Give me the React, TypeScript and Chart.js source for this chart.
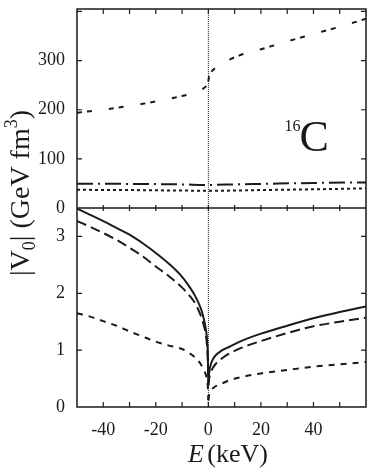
import React, { useEffect, useRef } from 'react';
import { Chart, registerables } from 'chart.js';

Chart.register(...registerables);

// Energy grids (keV)
const E_NEG = [-50, -45, -40, -35, -30, -25, -20, -15, -10, -7, -5, -3, -2, -1, -0.5, -0.2, 0];
const E_POS = [0, 0.3, 1, 2, 3, 5, 8, 12, 20, 30, 40, 50, 60];
const E_FLAT = [-50, -30, -10, 0, 10, 20, 40, 60];

// Lower panel |V0| (GeV fm^3)
const solidNeg = [3.49, 3.38, 3.27, 3.15, 3.03, 2.88, 2.71, 2.52, 2.29, 2.10, 1.95, 1.75, 1.60, 1.38, 1.18, 0.90, 0.42];
const solidPos = [0.42, 0.60, 0.76, 0.86, 0.92, 0.99, 1.06, 1.15, 1.29, 1.43, 1.56, 1.67, 1.77];
const longDashNeg = [3.27, 3.17, 3.06, 2.94, 2.80, 2.65, 2.47, 2.30, 2.10, 1.95, 1.82, 1.62, 1.48, 1.28, 1.08, 0.82, 0.38];
const longDashPos = [0.38, 0.50, 0.62, 0.71, 0.77, 0.85, 0.94, 1.03, 1.16, 1.30, 1.42, 1.50, 1.57];
const shortDashNeg = [1.65, 1.59, 1.51, 1.43, 1.33, 1.24, 1.15, 1.08, 1.02, 0.94, 0.87, 0.76, 0.68, 0.57, 0.47, 0.35, 0.12];
const shortDashPos = [0.12, 0.22, 0.29, 0.34, 0.37, 0.41, 0.47, 0.52, 0.59, 0.65, 0.71, 0.75, 0.79];

// Upper panel |V0| (GeV fm^3)
const topDashNeg = [194, 197, 200, 204, 208, 212, 217, 222, 228, 232, 235, 240, 243, 247, 250, 253, 258];
const topDashPos = [258, 268, 276, 282, 287, 294, 302, 311, 323, 339, 354, 369, 385];
const dashDot = [49.5, 49, 48, 47, 48, 49, 51, 52];
const dotted = [37, 36.5, 35.5, 35, 35.5, 36.5, 38, 40];

const TOP_MAX = 405;
const BOT_MAX = 3.5;
const X_MIN = -50;
const X_MAX = 60;

const pts = (xs: number[], ys: number[]) => xs.map((x, i) => ({ x, y: ys[i] }));
const SERIF = '"Liberation Serif", "Times New Roman", Times, serif';
const INK = '#1a1a1a';

const decorPlugin = {
  id: 'decor',
  afterDatasetsDraw(chart: any) {
    const { ctx, chartArea: a, scales } = chart;
    const x = scales.x;
    const yt = scales.yTop;
    const yb = scales.yBot;
    ctx.save();
    ctx.strokeStyle = INK;
    ctx.lineWidth = 1.5;
    ctx.strokeRect(a.left, a.top, a.right - a.left, a.bottom - a.top);
    ctx.beginPath();
    ctx.moveTo(a.left, yt.bottom);
    ctx.lineTo(a.right, yt.bottom);
    ctx.stroke();

    const L = 5;
    ctx.lineWidth = 1.2;
    ctx.beginPath();
    x.ticks.forEach((t: any) => {
      const px = x.getPixelForValue(t.value);
      if (px <= a.left + 1 || px >= a.right - 1) return;
      ctx.moveTo(px, a.bottom);
      ctx.lineTo(px, a.bottom - L);
      ctx.moveTo(px, a.top);
      ctx.lineTo(px, a.top + L);
      ctx.moveTo(px, yt.bottom - L * 0.6);
      ctx.lineTo(px, yt.bottom + L * 0.6);
    });
    [yt, yb].forEach((s: any) =>
      s.ticks.forEach((t: any) => {
        const py = s.getPixelForValue(t.value);
        if (py <= s.top + 1 || py >= s.bottom - 1) return;
        ctx.moveTo(a.left, py);
        ctx.lineTo(a.left + L, py);
        ctx.moveTo(a.right, py);
        ctx.lineTo(a.right - L, py);
      })
    );
    ctx.stroke();

    ctx.fillStyle = INK;
    ctx.textBaseline = 'alphabetic';
    ctx.textAlign = 'left';

    // 16C label
    const lx = x.getPixelForValue(29);
    ctx.font = `16px ${SERIF}`;
    ctx.fillText('16', lx, yt.getPixelForValue(157));
    const w16 = ctx.measureText('16').width;
    ctx.font = `44px ${SERIF}`;
    ctx.fillText('C', lx + w16 - 1, yt.getPixelForValue(115));

    // x title
    const cx = (a.left + a.right) / 2;
    ctx.font = `italic 26px ${SERIF}`;
    const wE = ctx.measureText('E').width;
    ctx.font = `26px ${SERIF}`;
    const wRest = ctx.measureText(' (keV)').width;
    const startX = cx + 8 - (wE + wRest) / 2;
    ctx.font = `italic 26px ${SERIF}`;
    ctx.fillText('E', startX, chart.height - 11);
    ctx.font = `26px ${SERIF}`;
    ctx.fillText(' (keV)', startX + wE - 3, chart.height - 11);

    // y title (rotated)
    const big = `28px ${SERIF}`;
    const small = `18px ${SERIF}`;
    const parts: [string, string, number][] = [
      ['|V', big, 0],
      ['0', small, 6],
      ['| (GeV fm', big, 0],
      ['3', small, -12],
      [')', big, 0],
    ];
    let total = 0;
    const widths = parts.map(([t, f]) => {
      ctx.font = f;
      const w = ctx.measureText(t).width;
      total += w;
      return w;
    });
    ctx.translate(29, 193);
    ctx.rotate(-Math.PI / 2);
    let pos = -total / 2;
    parts.forEach(([t, f, dy], i) => {
      ctx.font = f;
      ctx.fillText(t, pos, dy);
      pos += widths[i];
    });
    ctx.restore();
  },
};

const noPad = (s: any) => {
  s.paddingTop = 0;
  s.paddingBottom = 0;
  s.paddingLeft = 0;
  s.paddingRight = 0;
};

export default function App() {
  const ref = useRef<HTMLCanvasElement | null>(null);

  useEffect(() => {
    let chart: Chart | null = null;
    let cancelled = false;
    const build = () => {
      if (cancelled || !ref.current) return;
      const line = (data: any[], yAxisID: string, dash: number[], width = 2) => ({
        data,
        yAxisID,
        xAxisID: 'x',
        borderColor: INK,
        backgroundColor: INK,
        borderWidth: width,
        borderDash: dash,
        pointRadius: 0,
        fill: false,
        cubicInterpolationMode: 'monotone' as const,
      });
      chart = new Chart(ref.current, {
        type: 'line',
        data: {
          datasets: [
            line(pts(E_NEG, solidNeg), 'yBot', []),
            line(pts(E_POS, solidPos), 'yBot', []),
            line(pts(E_NEG, longDashNeg), 'yBot', [10, 5]),
            line(pts(E_POS, longDashPos), 'yBot', [10, 5]),
            line(pts(E_NEG, shortDashNeg), 'yBot', [6, 6]),
            line(pts(E_POS, shortDashPos), 'yBot', [6, 6]),
            line(pts(E_NEG, topDashNeg), 'yTop', [5, 5, 5, 17]),
            line(pts(E_POS, topDashPos), 'yTop', [5, 5, 5, 17]),
            line(pts(E_FLAT, dashDot), 'yTop', [16, 5, 2, 5]),
            line(pts(E_FLAT, dotted), 'yTop', [3, 3]),
            line([{ x: 0, y: 0 }, { x: 0, y: TOP_MAX }], 'yTop', [1, 1], 1),
            line([{ x: 0, y: 0 }, { x: 0, y: BOT_MAX }], 'yBot', [1, 1], 1),
          ],
        },
        options: {
          animation: false,
          responsive: false,
          events: [],
          layout: { padding: { left: 0, right: 8, top: 9, bottom: 0 } },
          plugins: { legend: { display: false }, tooltip: { enabled: false } },
          scales: {
            x: {
              type: 'linear',
              min: X_MIN,
              max: X_MAX,
              grid: { display: false, drawTicks: false },
              border: { display: false },
              afterFit: (s: any) => {
                s.height = 66;
                noPad(s);
              },
              ticks: {
                stepSize: 10,
                autoSkip: false,
                maxRotation: 0,
                includeBounds: false,
                padding: 12,
                color: INK,
                font: { family: SERIF, size: 18 },
                callback: (v: any) => (v % 20 === 0 && v > X_MIN && v < X_MAX ? String(v) : ''),
              },
            },
            yBot: {
              type: 'linear',
              position: 'left',
              stack: 'panels',
              stackWeight: 1,
              min: 0,
              max: BOT_MAX,
              grid: { display: false, drawTicks: false },
              border: { display: false },
              afterFit: (s: any) => {
                s.width = 77;
                noPad(s);
              },
              ticks: {
                stepSize: 0.5,
                includeBounds: false,
                padding: 12,
                color: INK,
                font: { family: SERIF, size: 18 },
                callback: (v: any) => (Number.isInteger(v) && v <= 3 ? String(v) : ''),
              },
            },
            yTop: {
              type: 'linear',
              position: 'left',
              stack: 'panels',
              stackWeight: 1,
              min: 0,
              max: TOP_MAX,
              grid: { display: false, drawTicks: false },
              border: { display: false },
              afterFit: (s: any) => {
                s.width = 77;
                noPad(s);
              },
              ticks: {
                stepSize: 50,
                includeBounds: false,
                padding: 12,
                color: INK,
                font: { family: SERIF, size: 18 },
                callback: (v: any) => (v % 100 === 0 && v <= 300 ? String(v) : ''),
              },
            },
          },
        } as any,
        plugins: [decorPlugin],
      });
    };
    const fonts: any = (document as any).fonts;
    if (fonts && fonts.load) {
      Promise.all([
        fonts.load('18px "Liberation Serif"'),
        fonts.load('italic 26px "Liberation Serif"'),
      ])
        .catch(() => null)
        .then(build);
    } else {
      build();
    }
    return () => {
      cancelled = true;
      if (chart) chart.destroy();
    };
  }, []);

  return (
    <div style={{ position: 'absolute', left: 0, top: 0, width: 374, height: 473, background: '#fff' }}>
      <canvas ref={ref} width={374} height={473} style={{ display: 'block' }} />
    </div>
  );
}
